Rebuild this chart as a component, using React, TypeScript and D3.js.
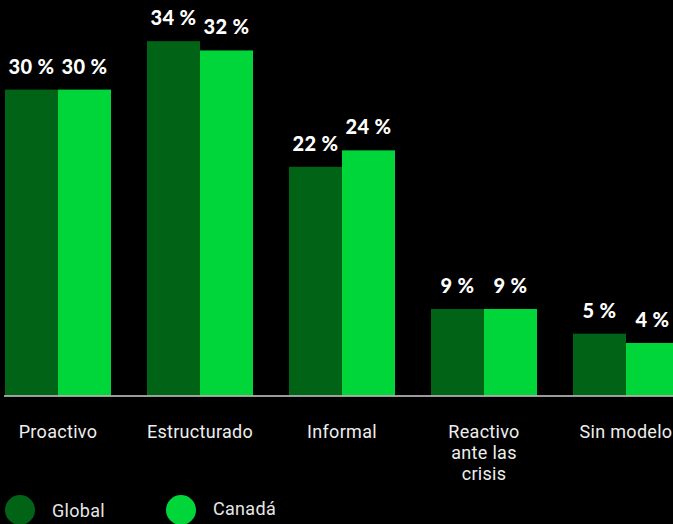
import React from "react";
import * as d3 from "d3";

const categories: string[][] = [
  ["Proactivo"],
  ["Estructurado"],
  ["Informal"],
  ["Reactivo", "ante las", "crisis"],
  ["Sin modelo"],
];
const seriesNames = ["Global", "Canadá"];
const globalValues = [29.7, 34.4, 22.2, 8.4, 6.0];
const canadaValues = [29.7, 33.5, 23.8, 8.4, 5.1];
const globalLabels = ["30 %", "34 %", "22 %", "9 %", "5 %"];
const canadaLabels = ["30 %", "32 %", "24 %", "9 %", "4 %"];

const W = 673;
const H = 524;
const COLORS = ["#006316", "#00D63A"];

export default function App() {
  const keys = categories.map((c) => c.join(" "));
  const x = d3.scaleBand<string>().domain(keys).range([5, 679]).paddingInner(36 / 142).paddingOuter(0);
  const xs = d3.scaleBand<string>().domain(seriesNames).range([0, x.bandwidth()]).padding(0);
  const y = d3.scaleLinear().domain([0, 38]).range([395.5, 4.1]);
  const series = [
    { name: seriesNames[0], values: globalValues, labels: globalLabels },
    { name: seriesNames[1], values: canadaValues, labels: canadaLabels },
  ];
  const catFont = "Roboto, 'Noto Sans', sans-serif";
  return (
    <div style={{ position: "fixed", left: 0, top: 0, width: W, height: H, background: "#000" }}>
      <svg width={W} height={H} style={{ display: "block" }}>
        <rect x={0} y={0} width={W} height={H} fill="#000" />
        {series.map((s, si) =>
          s.values.map((v, i) => {
            const bx = (x(keys[i]) as number) + (xs(s.name) as number);
            const top = y(v);
            return (
              <g key={s.name + i}>
                <rect x={bx} y={top} width={xs.bandwidth()} height={y(0) - top} fill={COLORS[si]} />
                <text
                  x={bx + xs.bandwidth() / 2}
                  y={top - 16}
                  textAnchor="middle"
                  fill="#fff"
                  fontFamily="Lato, 'Open Sans', sans-serif"
                  fontWeight={900}
                  fontSize={20}
                  letterSpacing={0.4}
                >
                  {s.labels[i]}
                </text>
              </g>
            );
          })
        )}
        <line x1={4} x2={W} y1={396} y2={396} stroke="#cfcfcf" strokeWidth={1.5} />
        {categories.map((lines, i) => (
          <text
            key={keys[i]}
            x={(x(keys[i]) as number) + x.bandwidth() / 2}
            y={438}
            textAnchor="middle"
            fill="#eeeeee"
            fontFamily={catFont}
            fontSize={18}
            letterSpacing={0.3}
          >
            {lines.map((l, j) => (
              <tspan key={j} x={(x(keys[i]) as number) + x.bandwidth() / 2} dy={j === 0 ? 0 : 21}>
                {l}
              </tspan>
            ))}
          </text>
        ))}
        {seriesNames.map((n, i) => {
          const cx = [20, 181][i];
          return (
            <g key={n}>
              <circle cx={cx} cy={510} r={15} fill={COLORS[i]} />
              <text x={cx + 32} y={[517, 515][i]} fill="#e6e6e6" fontFamily={catFont} fontSize={18} letterSpacing={0.3}>
                {n}
              </text>
            </g>
          );
        })}
      </svg>
    </div>
  );
}
